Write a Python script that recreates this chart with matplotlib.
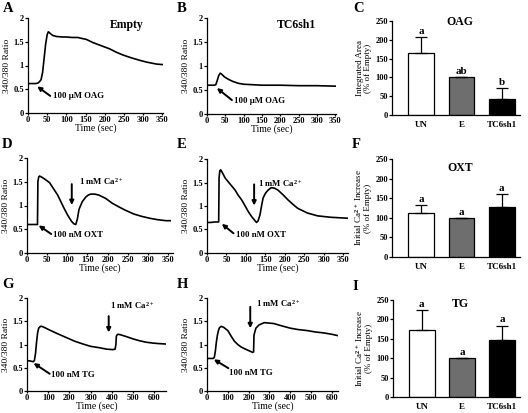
import matplotlib
matplotlib.use('Agg')
import matplotlib.pyplot as plt

plt.rcParams['font.family'] = ['Liberation Serif', 'DejaVu Serif']
plt.rcParams['font.weight'] = 'bold'
plt.rcParams['mathtext.fontset'] = 'custom'
plt.rcParams['mathtext.rm'] = 'Liberation Serif:bold'
plt.rcParams['mathtext.it'] = 'Liberation Serif:bold'
plt.rcParams['mathtext.bf'] = 'Liberation Serif:bold'

# ---- data: Ca traces (time in sec, 340/380 ratio) ----
t_A = [0, 10, 20, 26, 30, 34, 38, 42, 46, 50, 53, 56, 60, 65, 75, 90, 100, 115, 130, 140,
       152, 170, 190, 213, 230, 248, 270, 291, 310, 335, 350]
y_A = [0.62, 0.62, 0.62, 0.63, 0.66, 0.7, 0.85, 1.15, 1.45, 1.65, 1.71, 1.69, 1.66, 1.63, 1.61,
       1.6, 1.6, 1.59, 1.59, 1.57, 1.55, 1.48, 1.42, 1.35, 1.28, 1.22, 1.16, 1.11, 1.07, 1.03, 1.02]

t_B = [0, 10, 20, 24, 28, 32, 36, 40, 48, 59, 70, 85, 100, 125, 150, 200, 250, 300, 350]
y_B = [0.6, 0.6, 0.6, 0.61, 0.7, 0.8, 0.85, 0.83, 0.77, 0.72, 0.68, 0.64, 0.62, 0.61, 0.6,
       0.6, 0.59, 0.59, 0.58]

t_D = [0, 10, 20, 26, 27, 29, 31, 36, 45, 56, 66, 76, 84, 92, 100, 105, 111, 117, 121, 125,
       129, 137, 146, 152, 158, 168, 178, 195, 211, 228, 244, 265, 285, 305, 325, 345, 355]
y_D = [0.6, 0.6, 0.6, 0.6, 1.5, 1.6, 1.62, 1.6, 1.55, 1.48, 1.35, 1.22, 1.08, 0.94, 0.81, 0.74,
       0.66, 0.61, 0.6, 0.72, 0.92, 1.08, 1.18, 1.22, 1.24, 1.24, 1.22, 1.15, 1.05, 0.97, 0.9,
       0.82, 0.77, 0.73, 0.7, 0.68, 0.68]

t_E = [0, 10, 20, 30, 31, 33, 35, 40, 47, 60, 72, 80, 89, 98, 106, 115, 123, 127, 131, 136,
       140, 144, 150, 157, 165, 173, 182, 195, 208, 220, 233, 258, 284, 318, 360]
y_E = [0.65, 0.65, 0.66, 0.66, 1.6, 1.75, 1.77, 1.7, 1.59, 1.46, 1.34, 1.23, 1.13, 1.0, 0.88,
       0.77, 0.69, 0.65, 0.68, 0.81, 1.0, 1.17, 1.27, 1.34, 1.39, 1.38, 1.34, 1.24, 1.13, 1.04,
       0.95, 0.85, 0.79, 0.76, 0.74]

t_G = [0, 10, 20, 30, 35, 40, 45, 50, 55, 63, 70, 85, 107, 140, 185, 225, 264, 300, 342, 375,
       405, 415, 419, 421, 425, 429, 440, 468, 500, 531, 560, 594, 620, 655]
y_G = [0.65, 0.65, 0.64, 0.63, 0.66, 0.8, 1.05, 1.25, 1.35, 1.39, 1.39, 1.36, 1.31, 1.24, 1.15,
       1.07, 1.01, 0.96, 0.93, 0.9, 0.89, 0.9, 1.0, 1.18, 1.21, 1.22, 1.21, 1.17, 1.12, 1.08,
       1.05, 1.03, 1.02, 1.01]

t_H = [0, 10, 20, 30, 35, 40, 45, 50, 55, 60, 68, 80, 100, 116, 132, 148, 163, 180, 195, 210,
       219, 224, 226, 230, 235, 250, 275, 300, 322, 360, 402, 440, 481, 520, 560, 600, 630]
y_H = [0.7, 0.7, 0.7, 0.7, 0.72, 0.85, 1.05, 1.2, 1.3, 1.36, 1.39, 1.37, 1.3, 1.18, 1.07, 1.0,
       0.95, 0.91, 0.88, 0.85, 0.83, 0.84, 1.2, 1.27, 1.35, 1.42, 1.47, 1.46, 1.45, 1.4, 1.35,
       1.32, 1.3, 1.27, 1.25, 1.22, 1.19]

# ---- data: bar panels (% of Empty) ----
groups = ['UN', 'E', 'TC6sh1']
oag_mean = [165, 100, 43]
oag_err = [42, 0, 28]
oag_sig = ['a', 'ab', 'b']
oxt_mean = [113, 100, 127]
oxt_err = [19, 0, 33]
oxt_sig = ['a', 'a', 'a']
tg_mean = [172, 100, 147]
tg_err = [52, 0, 37]
tg_sig = ['a', 'a', 'a']
bar_colors = ['white', '#6e6e6e', 'black']

W, H = 528, 413
fig = plt.figure(figsize=(W / 100, H / 100), dpi=100)
fs = 6.0


def px_axes(x0, x1, ytop, ybot):
    return fig.add_axes([x0 / W, 1 - ybot / H, (x1 - x0) / W, (ybot - ytop) / H])


def style(ax):
    for s in ['top', 'right']:
        ax.spines[s].set_visible(False)
    for s in ['left', 'bottom']:
        ax.spines[s].set_linewidth(0.9)
    ax.tick_params(labelsize=fs, length=2, width=0.9, pad=1)


def trace(ax, t, y, xmax, xticks):
    ax.plot(t, y, color='black', lw=1.2)
    ax.set_xlim(0, xmax)
    ax.set_ylim(0, 2)
    ax.set_xticks(xticks)
    ax.set_yticks([0, 0.5, 1, 1.5, 2])
    ax.set_yticklabels(['0', '0.5', '1', '1.5', '2'])
    ax.set_xlabel('Time (sec)', fontsize=7, labelpad=-0.5)
    ax.set_ylabel('340/380 Ratio', fontsize=6.8, labelpad=2)
    style(ax)
    ax.tick_params(axis='x', length=1.5, pad=0.5)


def arrow(ax, head, tail, text=None, tpos=None):
    ax.annotate('', xy=head, xytext=tail,
                arrowprops=dict(arrowstyle='-|>', color='black', lw=1.4, mutation_scale=6,
                                shrinkA=0, shrinkB=0))
    if text:
        ax.text(tpos[0], tpos[1], text, fontsize=6.3, va='center', ha='left')


def bars(ax, mean, err, sig, title, ylabel, title_y):
    x = range(len(groups))
    ax.bar(x, mean, width=0.64, color=bar_colors, edgecolor='black', linewidth=0.9,
           yerr=[[0] * 3, err], error_kw=dict(ecolor='black', elinewidth=0.9, capsize=4,
                                              capthick=0.9))
    for i in x:
        ax.text(i, mean[i] + err[i] + 3, sig[i], ha='center', va='bottom', fontsize=8)
    ax.set_xlim(-0.72, 2.45)
    ax.set_ylim(0, 250)
    ax.set_yticks(range(0, 251, 50))
    ax.set_xticks(list(x))
    ax.set_xticklabels(groups)
    ax.set_ylabel(ylabel, fontsize=6.5, labelpad=2, linespacing=1.0)
    ax.text(0.97, title_y, title, ha='center', va='center', fontsize=8.5)
    style(ax)
    ax.tick_params(axis='x', length=0, pad=4, labelsize=6.5)


# A
ax = px_axes(28, 163, 18, 113)
trace(ax, t_A, y_A, 352, range(0, 351, 50))
ax.text(257, 1.86, 'Empty', ha='center', va='center', fontsize=8.5)
arrow(ax, (24, 0.56), (58, 0.36), '100 µM OAG', (64, 0.35))

# B
ax = px_axes(207, 336, 18, 114)
trace(ax, t_B, y_B, 352, range(0, 351, 50))
ax.text(243, 1.86, 'TC6sh1', ha='center', va='center', fontsize=8.5)
arrow(ax, (27, 0.54), (68, 0.29), '100 µM OAG', (75, 0.28))

# C
ax = px_axes(392, 520, 21, 115)
bars(ax, oag_mean, oag_err, oag_sig, 'OAG', 'Integrated Area\n(% of Empty)', 248)

# D
ax = px_axes(27, 173, 158, 253)
trace(ax, t_D, y_D, 362, range(0, 351, 50))
arrow(ax, (111, 1.01), (111, 1.45), '1 mM Ca$^{2+}$', (129, 1.5))
arrow(ax, (29, 0.58), (60, 0.4), '100 nM OXT', (64, 0.38))

# E
ax = px_axes(207, 348, 159, 253)
trace(ax, t_E, y_E, 362, range(0, 351, 50))
arrow(ax, (121, 1.01), (121, 1.46), '1 mM Ca$^{2+}$', (131, 1.48))
arrow(ax, (38, 0.62), (68, 0.42), '100 nM OXT', (75, 0.39))

# F
ax = px_axes(392, 520, 159, 257)
bars(ax, oxt_mean, oxt_err, oxt_sig, 'OXT', 'Initial Ca$^{2+}$ Increase\n(% of Empty)', 228)

# G
ax = px_axes(27, 166, 298, 391)
trace(ax, t_G, y_G, 655, range(0, 601, 100))
arrow(ax, (385, 1.26), (385, 1.61), '1 mM Ca$^{2+}$', (392, 1.84))
arrow(ax, (31, 0.6), (107, 0.37), '100 nM TG', (113, 0.35))

# H
ax = px_axes(207, 338, 298, 391)
trace(ax, t_H, y_H, 630, range(0, 601, 100))
arrow(ax, (208, 1.35), (208, 1.81), '1 mM Ca$^{2+}$', (234, 1.89))
arrow(ax, (33, 0.68), (103, 0.49), '100 nM TG', (108, 0.39))

# I
ax = px_axes(393, 520, 300, 397)
bars(ax, tg_mean, tg_err, tg_sig, 'TG', 'Initial Ca$^{2+}$ Increase\n(% of Empty)', 240)

# panel letters
for lab, x, y in [('A', 3, 9), ('B', 177, 9), ('C', 353, 9),
                  ('D', 2, 144), ('E', 177, 145), ('F', 352, 145),
                  ('G', 2, 284), ('H', 177, 284), ('I', 352, 286)]:
    fig.text(x / W, 1 - y / H, lab, fontsize=10.5, va='center', ha='left')

fig.savefig('out.png', dpi=100)
